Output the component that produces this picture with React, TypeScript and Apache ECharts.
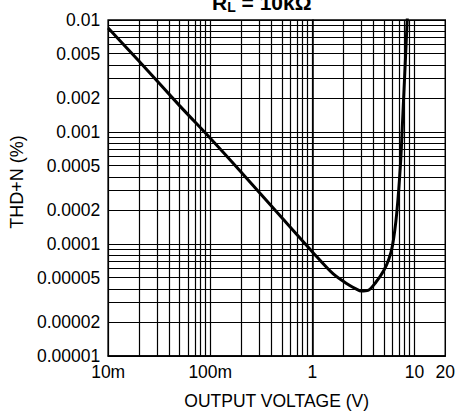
import React, { useEffect, useRef } from 'react';
import * as echarts from 'echarts';

// Curve (V, %)
const voltage = [0.01, 0.02, 0.05, 0.1, 0.2, 0.5, 1.0, 1.6, 2.3, 2.7, 3.0, 3.5, 4.2, 5.0, 5.6, 6.1, 6.7, 7.3, 7.7, 8.1, 8.5];
const thdN = [0.0085, 0.0043, 0.00172, 0.00088, 0.00044, 0.000172, 0.000085, 0.000054, 0.0000428, 0.0000395, 0.000038, 0.0000385, 0.0000458, 0.000058, 0.000073, 0.000098, 0.00019, 0.00053, 0.00147, 0.004, 0.0105];

const xTickValues = [0.01, 0.1, 1, 10, 20];
const xTickLabels = ['10m', '100m', '1', '10', '20'];
const yTickValues = [0.01, 0.005, 0.002, 0.001, 0.0005, 0.0002, 0.0001, 0.00005, 0.00002, 0.00001];
const yTickLabels = ['0.01', '0.005', '0.002', '0.001', '0.0005', '0.0002', '0.0001', '0.00005', '0.00002', '0.00001'];

const mantissas = [1, 2, 3, 4, 5, 6, 7, 8, 9];
const xDecades = [0.01, 0.1, 1];
const yDecades = [0.00001, 0.0001, 0.001];
const xGridValues = [...xDecades.flatMap((d) => mantissas.map((m) => m * d)), 10];
const yGridValues = [...yDecades.flatMap((d) => mantissas.map((m) => m * d)), 0.01];

const lg = (v: number) => Math.log10(v);
const FONT = '"Liberation Sans", Arial, sans-serif';

export default function App() {
  const ref = useRef<HTMLDivElement>(null);
  useEffect(() => {
    if (!ref.current) return;
    const chart = echarts.init(ref.current, null, { renderer: 'svg' });
    const labelFor = (vals: number[], labels: string[]) => (v: number) => {
      const i = vals.findIndex((t) => Math.abs(lg(t) - v) < 1e-6);
      return i >= 0 ? labels[i] : '';
    };
    const gridLineStyle = { type: 'solid', color: '#000', width: 1.2 };
    chart.setOption({
      animation: false,
      backgroundColor: '#fff',
      title: {
        text: '{b|R}{s|L}{b| = 10kΩ}',
        left: 212,
        top: -10,
        padding: 0,
        textStyle: {
          fontFamily: FONT,
          rich: {
            b: { fontFamily: FONT, fontSize: 21, fontWeight: 'bold', color: '#000', lineHeight: 24 },
            s: { fontFamily: FONT, fontSize: 14, fontWeight: 'bold', color: '#000', lineHeight: 24, padding: [9, 0, 0, 0] },
          },
        },
      },
      grid: {
        left: 105,
        right: 11,
        top: 20,
        bottom: 53,
        show: true,
        borderColor: '#000',
        borderWidth: 1.5,
        backgroundColor: 'transparent',
      },
      xAxis: {
        type: 'value',
        min: lg(0.01),
        max: lg(20),
        name: 'OUTPUT VOLTAGE (V)',
        nameLocation: 'middle',
        nameGap: 36,
        nameTextStyle: { fontFamily: FONT, fontSize: 17.5, color: '#000' },
        axisLine: { show: true, lineStyle: { color: '#000', width: 1.5 } },
        axisTick: { show: false },
        splitLine: { show: false },
        axisLabel: {
          customValues: xTickValues.map(lg),
          formatter: labelFor(xTickValues, xTickLabels),
          fontFamily: FONT,
          fontSize: 17.5,
          color: '#000',
          margin: 7,
        },
      },
      yAxis: {
        type: 'value',
        min: lg(0.00001),
        max: lg(0.01),
        name: 'THD+N (%)',
        nameLocation: 'middle',
        nameGap: 77,
        nameTextStyle: { fontFamily: FONT, fontSize: 18, color: '#000', padding: [0, 0, 0, 12] },
        axisLine: { show: true, lineStyle: { color: '#000', width: 1.5 } },
        axisTick: { show: false },
        splitLine: { show: false },
        axisLabel: {
          customValues: yTickValues.map(lg),
          formatter: labelFor(yTickValues, yTickLabels),
          fontFamily: FONT,
          fontSize: 17.5,
          color: '#000',
          margin: 8,
        },
      },
      series: [
        {
          type: 'line',
          data: [],
          z: 1,
          silent: true,
          markLine: {
            silent: true,
            symbol: ['none', 'none'],
            label: { show: false },
            lineStyle: gridLineStyle,
            data: [
              ...xGridValues.map((v) => ({ xAxis: lg(v) })),
              ...yGridValues.map((v) => ({ yAxis: lg(v) })),
            ],
          },
        },
        {
          type: 'line',
          z: 5,
          data: voltage.map((v, i) => [lg(v), lg(thdN[i])]),
          showSymbol: false,
          smooth: 0.3,
          lineStyle: { color: '#000', width: 3 },
          clip: true,
        },
      ],
    });
    return () => chart.dispose();
  }, []);
  return <div ref={ref} style={{ width: 458, height: 415, position: 'absolute', left: 0, top: 0 }} />;
}
